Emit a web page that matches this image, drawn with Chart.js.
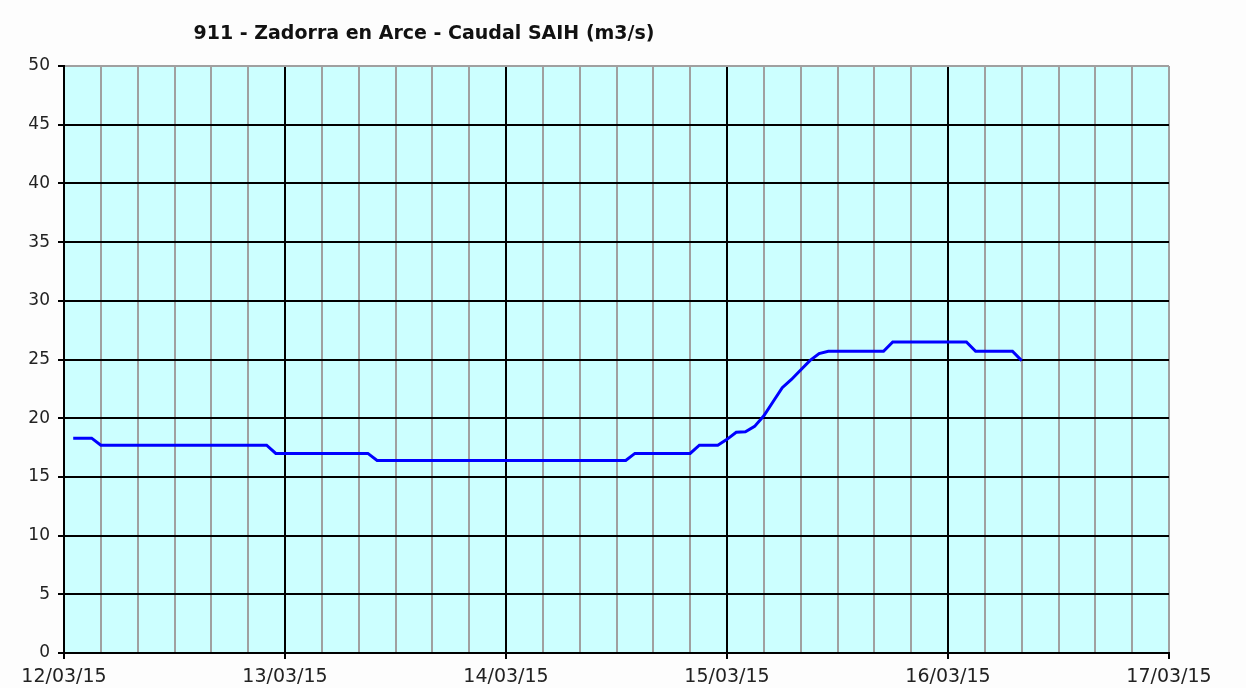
<!DOCTYPE html>
<html>
<head>
<meta charset="utf-8">
<script src="https://cdn.jsdelivr.net/npm/chart.js@4/dist/chart.umd.min.js"></script>
<style>
  html, body { margin: 0; padding: 0; background: #fdfdfd; }
  #wrap { width: 1246px; height: 688px; position: relative; }
</style>
</head>
<body>
<div id="wrap"><canvas id="c" width="1246" height="688"></canvas></div>
<script>
const chartTitle = '911 - Zadorra en Arce - Caudal SAIH (m3/s)';
const dayLabels = ['12/03/15', '13/03/15', '14/03/15', '15/03/15', '16/03/15', '17/03/15'];
// hours since 12/03/15 00:00
const hours  = [1, 3, 4, 22, 23, 33, 34, 61, 62, 68, 69, 71, 72, 73, 74, 75, 76, 77, 78, 79, 80, 81, 82, 83, 89, 90, 98, 99, 103, 104];
const caudal = [18.3, 18.3, 17.7, 17.7, 17.0, 17.0, 16.4, 16.4, 17.0, 17.0, 17.7, 17.7, 18.2, 18.8, 18.85, 19.3, 20.2, 21.4, 22.6, 23.3, 24.1, 24.9, 25.5, 25.7, 25.7, 26.5, 26.5, 25.7, 25.7, 24.9];

const points = hours.map((h, i) => ({ x: h, y: caudal[i] }));

const bgPlugin = {
  id: 'bg',
  beforeDraw(chart) {
    const { ctx, chartArea: a } = chart;
    ctx.save();
    ctx.fillStyle = '#ccffff';
    ctx.fillRect(a.left, a.top, a.right - a.left, a.bottom - a.top);
    ctx.restore();
  },
  afterDraw(chart) {
    const ctx = chart.ctx;
    ctx.save();
    ctx.font = 'bold 19px "DejaVu Sans"';
    ctx.fillStyle = '#111';
    ctx.textAlign = 'center';
    ctx.textBaseline = 'middle';
    ctx.fillText(chartTitle, 424, 34);
    ctx.restore();
  }
};

new Chart(document.getElementById('c'), {
  type: 'line',
  data: {
    datasets: [{
      data: points,
      borderColor: '#0000ff',
      borderWidth: 3,
      pointRadius: 0,
      tension: 0,
      fill: false
    }]
  },
  options: {
    responsive: false,
    animation: false,
    layout: { padding: { left: 0, right: 77, top: 66, bottom: 0 } },
    plugins: { legend: { display: false }, tooltip: { enabled: false }, title: { display: false } },
    scales: {
      x: {
        type: 'linear',
        min: 0,
        max: 120,
        afterFit: s => { s.height = 35; },
        afterBuildTicks: s => {
          const t = [];
          for (let v = 0; v <= 120; v += 4) t.push({ value: v });
          s.ticks = t;
        },
        ticks: {
          autoSkip: false,
          maxRotation: 0,
          padding: 7,
          color: '#222',
          font: { family: '"DejaVu Sans"', size: 19 },
          callback: v => (v % 24 === 0 ? dayLabels[v / 24] : '')
        },
        grid: {
          color: ctx => (ctx.tick && ctx.tick.value % 24 === 0 && ctx.tick.value !== 120 ? '#000' : '#a0a0a0'),
          lineWidth: 2,
          tickLength: 6,
          tickColor: ctx => (ctx.tick && ctx.tick.value % 24 === 0 ? '#000' : 'rgba(0,0,0,0)')
        },
        border: { color: '#000', width: 2 }
      },
      y: {
        min: 0,
        max: 50,
        afterFit: s => { s.width = 64; },
        ticks: {
          stepSize: 5,
          padding: 8,
          color: '#222',
          font: { family: '"DejaVu Sans"', size: 17 }
        },
        grid: {
          color: ctx => (ctx.tick && ctx.tick.value === 50 ? '#a0a0a0' : '#000'),
          lineWidth: 2,
          tickLength: 6,
          tickColor: '#000'
        },
        border: { color: '#000', width: 2 }
      }
    }
  },
  plugins: [bgPlugin]
});
</script>
</body>
</html>
